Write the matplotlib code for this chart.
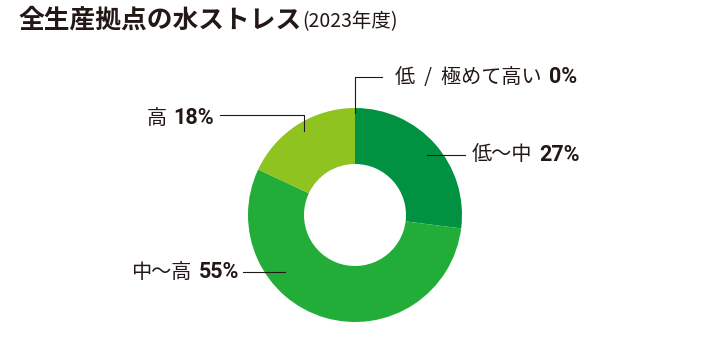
import matplotlib
matplotlib.use("Agg")
import matplotlib.pyplot as plt

categories = ["低〜中", "中〜高", "高", "低  /  極めて高い"]
values = [27, 55, 18, 0]
pct_labels = ["27%", "55%", "18%", "0%"]
colors = ["#009240", "#22ac38", "#8fc31f", "#c8dc5a"]

W, H = 710, 358
fig = plt.figure(figsize=(W / 100, H / 100), dpi=100)
ax = fig.add_axes([0, 0, 1, 1])
ax.set_xlim(0, W)
ax.set_ylim(0, H)
ax.set_aspect("equal")
ax.axis("off")

def Y(y):
    return H - y

cx, cy, R, w = 355, 215, 107, 56
ax.pie(values, colors=colors, startangle=90, counterclock=False,
       center=(cx, Y(cy)), radius=R,
       wedgeprops=dict(width=w, linewidth=0), frame=True)
ax.set_xlim(0, W)
ax.set_ylim(0, H)
ax.axis("off")

txt = "#231815"
jp = ["Noto Sans CJK JP", "DejaVu Sans"]
num = ["Roboto", "Noto Sans CJK JP"]

# title
t1 = ax.text(18, Y(20), "全生産拠点の水ストレス", fontsize=18.5, fontweight="bold",
             family=jp, color=txt, va="center", ha="left")
fig.canvas.draw()
r = fig.canvas.get_renderer()
bb = t1.get_window_extent(r)
ax.text(bb.x1 + 1, Y(22), "(2023年度)", fontsize=14, family=jp, color=txt,
        va="center", ha="left")

# leader lines
lc = "#231815"
lw = 0.8
ax.plot([355, 355, 382], [Y(113), Y(77), Y(77)], color=lc, lw=lw)
ax.plot([220, 304, 304], [Y(115), Y(115), Y(131)], color=lc, lw=lw)
ax.plot([427, 465], [Y(155), Y(155)], color=lc, lw=lw)
ax.plot([243, 285], [Y(272), Y(272)], color=lc, lw=lw)

fs = 14.5
fsp = 15.5
gap = 7

def label_left(x, y, cat, pct):
    a = ax.text(x, Y(y), cat, fontsize=fs, family=jp, color=txt, va="center", ha="left")
    fig.canvas.draw()
    b = a.get_window_extent(fig.canvas.get_renderer())
    ax.text(b.x1 + gap, Y(y), pct, fontsize=fsp, fontweight="bold", family=num,
            color=txt, va="center", ha="left")

def label_right(x, y, cat, pct):
    a = ax.text(x, Y(y), pct, fontsize=fsp, fontweight="bold", family=num,
                color=txt, va="center", ha="right")
    fig.canvas.draw()
    b = a.get_window_extent(fig.canvas.get_renderer())
    ax.text(b.x0 - gap, Y(y), cat, fontsize=fs, family=jp, color=txt,
            va="center", ha="right")

label_left(395, 77, categories[3], pct_labels[3])
label_right(214, 118, categories[2], pct_labels[2])
label_left(472, 155, categories[0], pct_labels[0])
label_right(239, 272, categories[1], pct_labels[1])

fig.savefig("out.png", dpi=100, facecolor="white")
